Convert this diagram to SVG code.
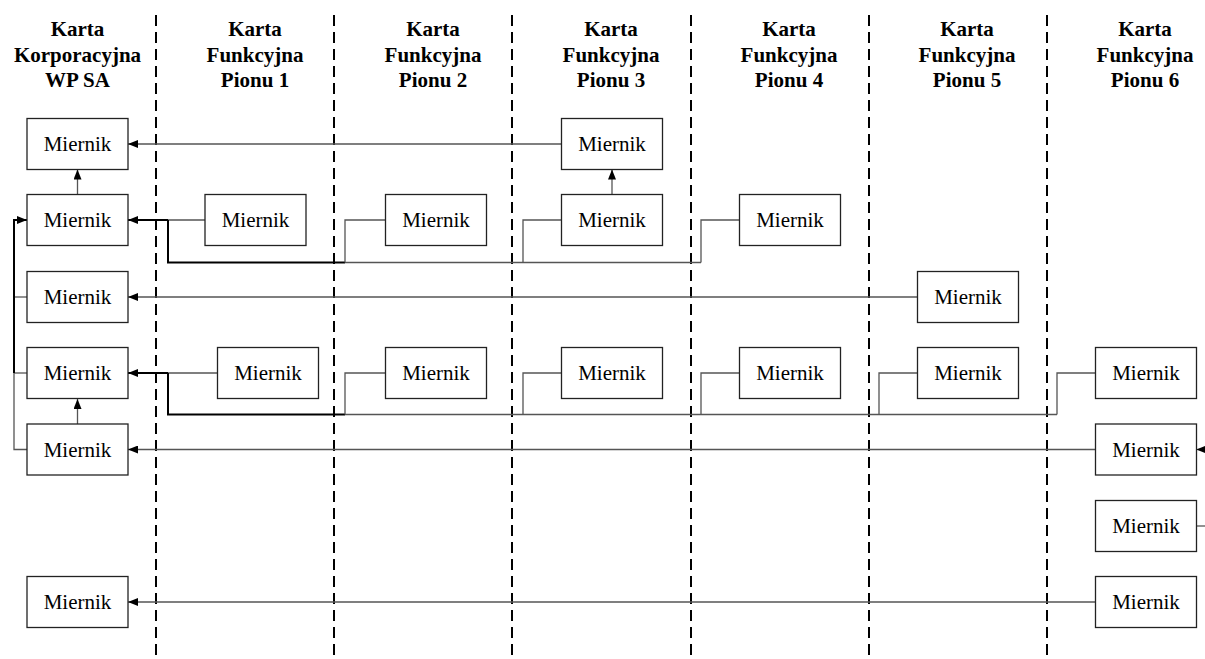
<svg xmlns="http://www.w3.org/2000/svg" width="1205" height="659" viewBox="0 0 1205 659">
<style>
text{font-family:'Liberation Serif','DejaVu Serif',serif}
.hdr{font-size:21px;font-weight:bold;fill:#000;text-anchor:middle}
.lbl{font-size:21px;fill:#000;text-anchor:middle}
.box{fill:#fff;stroke:#222;stroke-width:1.3}
.sep{stroke:#000;stroke-width:2;stroke-dasharray:11 6;fill:none}
.ln{stroke:#555;stroke-width:1.3;fill:none}
.bus{stroke:#000;stroke-width:2;fill:none}
</style>
<defs>
<marker id="ah" markerWidth="10" markerHeight="8" refX="10" refY="4" orient="auto" markerUnits="userSpaceOnUse">
<path d="M0,0 L10,4 L0,8 z" fill="#000"/>
</marker>
</defs>
<rect width="1205" height="659" fill="#fff"/>
<g id="separators">
<line class="sep" x1="156" y1="15" x2="156" y2="659"/>
<line class="sep" x1="334" y1="15" x2="334" y2="659"/>
<line class="sep" x1="512" y1="15" x2="512" y2="659"/>
<line class="sep" x1="691" y1="15" x2="691" y2="659"/>
<line class="sep" x1="869" y1="15" x2="869" y2="659"/>
<line class="sep" x1="1047" y1="15" x2="1047" y2="659"/>
</g>
<g id="headers" font-family="Liberation Serif, DejaVu Serif, serif">
<text class="hdr" x="77.5" y="36">Karta</text><text class="hdr" x="77.5" y="61.5">Korporacyjna</text><text class="hdr" x="77.5" y="87">WP SA</text>
<text class="hdr" x="255" y="36">Karta</text><text class="hdr" x="255" y="61.5">Funkcyjna</text><text class="hdr" x="255" y="87">Pionu 1</text>
<text class="hdr" x="433" y="36">Karta</text><text class="hdr" x="433" y="61.5">Funkcyjna</text><text class="hdr" x="433" y="87">Pionu 2</text>
<text class="hdr" x="611" y="36">Karta</text><text class="hdr" x="611" y="61.5">Funkcyjna</text><text class="hdr" x="611" y="87">Pionu 3</text>
<text class="hdr" x="789" y="36">Karta</text><text class="hdr" x="789" y="61.5">Funkcyjna</text><text class="hdr" x="789" y="87">Pionu 4</text>
<text class="hdr" x="967" y="36">Karta</text><text class="hdr" x="967" y="61.5">Funkcyjna</text><text class="hdr" x="967" y="87">Pionu 5</text>
<text class="hdr" x="1145" y="36">Karta</text><text class="hdr" x="1145" y="61.5">Funkcyjna</text><text class="hdr" x="1145" y="87">Pionu 6</text>
</g>
<g id="connectors">
<line class="ln" x1="561.5" y1="144" x2="128" y2="144" marker-end="url(#ah)"/>
<line class="ln" x1="77.5" y1="194.5" x2="77.5" y2="169.5" marker-end="url(#ah)"/>
<line class="ln" x1="612" y1="194.5" x2="612" y2="169.5" marker-end="url(#ah)"/>
<line class="ln" x1="205" y1="220" x2="168" y2="220"/>
<line class="bus" x1="168" y1="220" x2="128" y2="220" marker-end="url(#ah)"/>
<polyline class="bus" points="168,220 168,262.5 345,262.5"/>
<polyline class="ln" points="345,262.5 701,262.5"/>
<polyline class="ln" points="345,262.5 345,220 385.5,220"/>
<polyline class="ln" points="523,262.5 523,220 561.5,220"/>
<polyline class="ln" points="701,262.5 701,220 739.5,220"/>
<line class="ln" x1="917.5" y1="297" x2="128" y2="297" marker-end="url(#ah)"/>
<line class="ln" x1="217.5" y1="373" x2="168" y2="373"/>
<line class="bus" x1="168" y1="373" x2="128" y2="373" marker-end="url(#ah)"/>
<polyline class="bus" points="168,373 168,414.5 345,414.5"/>
<polyline class="ln" points="345,414.5 1057,414.5"/>
<polyline class="ln" points="345,414.5 345,373 385.5,373"/>
<polyline class="ln" points="523,414.5 523,373 561.5,373"/>
<polyline class="ln" points="701,414.5 701,373 739.5,373"/>
<polyline class="ln" points="879,414.5 879,373 917.5,373"/>
<polyline class="ln" points="1057,414.5 1057,373 1095.5,373"/>
<line class="ln" x1="77.5" y1="424" x2="77.5" y2="399" marker-end="url(#ah)"/>
<line class="ln" x1="1095.5" y1="449.5" x2="128" y2="449.5" marker-end="url(#ah)"/>
<line class="ln" x1="1212" y1="449.5" x2="1196.5" y2="449.5" marker-end="url(#ah)"/>
<line class="ln" x1="1196.5" y1="526" x2="1210" y2="526"/>
<line class="ln" x1="1095.5" y1="602" x2="128" y2="602" marker-end="url(#ah)"/>
<polyline class="ln" points="27,449.5 14,449.5 14,373"/>
<line class="ln" x1="14" y1="373" x2="27" y2="373"/>
<line class="ln" x1="14" y1="297" x2="27" y2="297"/>
<polyline class="bus" points="14,373 14,220 27,220" marker-end="url(#ah)"/>
</g>
<g id="nodes" font-family="Liberation Serif, DejaVu Serif, serif">
<g id="n0r1"><rect class="box" x="27" y="118.5" width="101" height="51"/><text class="lbl" x="77.5" y="151">Miernik</text></g>
<g id="n0r2"><rect class="box" x="27" y="194.5" width="101" height="51"/><text class="lbl" x="77.5" y="227">Miernik</text></g>
<g id="n0r3"><rect class="box" x="27" y="271.5" width="101" height="51"/><text class="lbl" x="77.5" y="304">Miernik</text></g>
<g id="n0r4"><rect class="box" x="27" y="347.5" width="101" height="51"/><text class="lbl" x="77.5" y="380">Miernik</text></g>
<g id="n0r5"><rect class="box" x="27" y="424" width="101" height="51"/><text class="lbl" x="77.5" y="456.5">Miernik</text></g>
<g id="n0r7"><rect class="box" x="27" y="576.5" width="101" height="51"/><text class="lbl" x="77.5" y="609">Miernik</text></g>
<g id="n1r2"><rect class="box" x="205" y="194.5" width="101" height="51"/><text class="lbl" x="255.5" y="227">Miernik</text></g>
<g id="n1r4"><rect class="box" x="217.5" y="347.5" width="101" height="51"/><text class="lbl" x="268" y="380">Miernik</text></g>
<g id="n2r2"><rect class="box" x="385.5" y="194.5" width="101" height="51"/><text class="lbl" x="436" y="227">Miernik</text></g>
<g id="n2r4"><rect class="box" x="385.5" y="347.5" width="101" height="51"/><text class="lbl" x="436" y="380">Miernik</text></g>
<g id="n3r1"><rect class="box" x="561.5" y="118.5" width="101" height="51"/><text class="lbl" x="612" y="151">Miernik</text></g>
<g id="n3r2"><rect class="box" x="561.5" y="194.5" width="101" height="51"/><text class="lbl" x="612" y="227">Miernik</text></g>
<g id="n3r4"><rect class="box" x="561.5" y="347.5" width="101" height="51"/><text class="lbl" x="612" y="380">Miernik</text></g>
<g id="n4r2"><rect class="box" x="739.5" y="194.5" width="101" height="51"/><text class="lbl" x="790" y="227">Miernik</text></g>
<g id="n4r4"><rect class="box" x="739.5" y="347.5" width="101" height="51"/><text class="lbl" x="790" y="380">Miernik</text></g>
<g id="n5r3"><rect class="box" x="917.5" y="271.5" width="101" height="51"/><text class="lbl" x="968" y="304">Miernik</text></g>
<g id="n5r4"><rect class="box" x="917.5" y="347.5" width="101" height="51"/><text class="lbl" x="968" y="380">Miernik</text></g>
<g id="n6r4"><rect class="box" x="1095.5" y="347.5" width="101" height="51"/><text class="lbl" x="1146" y="380">Miernik</text></g>
<g id="n6r5"><rect class="box" x="1095.5" y="424" width="101" height="51"/><text class="lbl" x="1146" y="456.5">Miernik</text></g>
<g id="n6r6"><rect class="box" x="1095.5" y="500.5" width="101" height="51"/><text class="lbl" x="1146" y="533">Miernik</text></g>
<g id="n6r7"><rect class="box" x="1095.5" y="576.5" width="101" height="51"/><text class="lbl" x="1146" y="609">Miernik</text></g>
</g>
</svg>
